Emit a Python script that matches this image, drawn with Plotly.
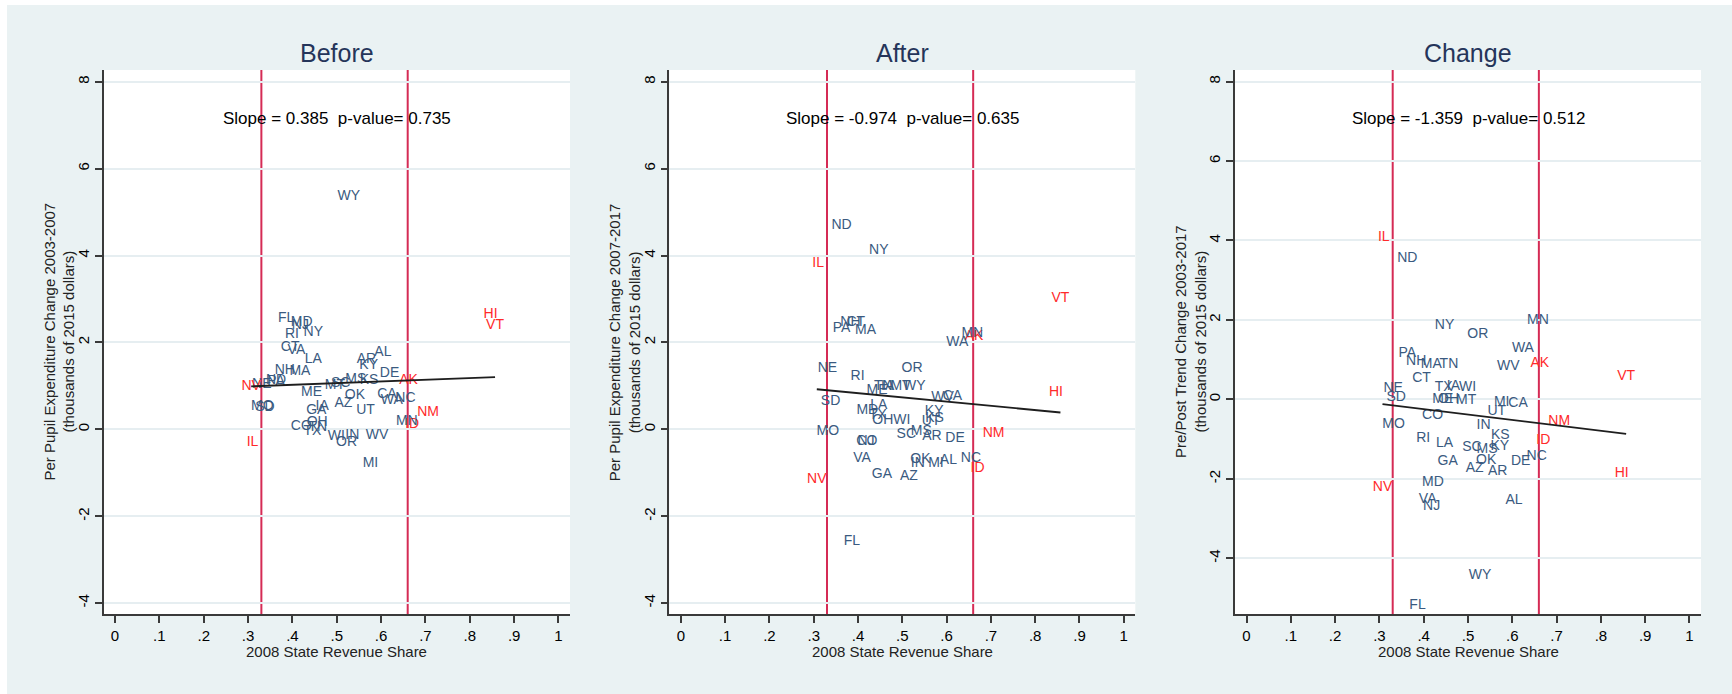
import plotly.graph_objects as go

# ---- data -------------------------------------------------------------
STATES = ["AL", "AK", "AZ", "AR", "CA", "CO", "CT", "DE", "FL", "GA",
          "HI", "ID", "IL", "IN", "IA", "KS", "KY", "LA", "ME", "MD",
          "MA", "MI", "MN", "MS", "MO", "MT", "NE", "NV", "NH", "NJ",
          "NM", "NY", "NC", "ND", "OH", "OK", "OR", "PA", "RI", "SC",
          "SD", "TN", "TX", "UT", "VT", "VA", "WA", "WV", "WI", "WY"]

# 2008 state share of school revenue
REVENUE_SHARE = [0.604, 0.662, 0.515, 0.567, 0.613, 0.420, 0.395, 0.619, 0.386, 0.454,
                 0.847, 0.670, 0.310, 0.535, 0.467, 0.573, 0.572, 0.447, 0.443, 0.421,
                 0.417, 0.576, 0.658, 0.543, 0.332, 0.496, 0.331, 0.307, 0.383, 0.418,
                 0.706, 0.447, 0.655, 0.363, 0.456, 0.541, 0.522, 0.363, 0.399, 0.509,
                 0.338, 0.457, 0.445, 0.565, 0.857, 0.409, 0.624, 0.591, 0.499, 0.527]

# per pupil expenditure change, 2003-2007 (thousands of 2015 dollars)
BEFORE = [1.77, 1.13, 0.60, 1.61, 0.81, 0.06, 1.88, 1.29, 2.55, 0.44,
          2.65, 0.10, -0.31, -0.15, 0.53, 1.13, 1.48, 1.61, 0.84, 2.45,
          1.32, -0.79, 0.17, 1.14, 0.52, 1.02, 1.04, 0.99, 1.36, 2.40,
          0.39, 2.22, 0.71, 1.12, 0.16, 0.79, -0.31, 1.10, 2.19, 1.05,
          0.50, 0.05, -0.06, 0.44, 2.38, 1.81, 0.66, -0.15, -0.17, 5.37]

# per pupil expenditure change, 2007-2017
AFTER = [-0.71, 2.13, -1.08, -0.17, 0.76, -0.29, 2.47, -0.21, -2.57, -1.03,
         0.84, -0.90, 3.82, -0.79, 0.98, 0.25, 0.40, 0.56, 0.90, 0.44,
         2.28, -0.79, 2.21, -0.06, -0.06, 0.99, 1.40, -1.15, 2.45, -0.29,
         -0.09, 4.11, -0.67, 4.70, 0.21, -0.69, 1.40, 2.32, 1.22, -0.13,
         0.63, 0.98, 0.33, 0.17, 3.01, -0.66, 2.01, 0.73, 0.21, 0.98]

# pre/post trend change, 2003-2017
CHANGE = [-2.55, 0.905, -1.74, -1.82, -0.09, -0.40, 0.53, -1.55, -5.18, -1.55,
          -1.86, -1.04, 4.08, -0.65, 0.33, -0.90, -1.18, -1.11, 0.00, -2.09,
          0.89, -0.08, 1.98, -1.26, -0.62, -0.03, 0.28, -2.22, 0.965, -2.70,
          -0.56, 1.85, -1.43, 3.55, 0.00, -1.53, 1.64, 1.16, -0.98, -1.21,
          0.05, 0.87, 0.29, -0.31, 0.57, -2.52, 1.28, 0.82, 0.31, -4.44]

THRESHOLDS = [0.33, 0.66]
SLOPES = [0.385, -0.974, -1.359]
P_VALUES = [0.735, 0.635, 0.512]
INTERCEPTS = [0.871, 1.222, 0.297]

PANEL_TITLES = ["Before", "After", "Change"]
Y_TITLES = ["Per Pupil Expenditure Change 2003-2007<br>(thousands of 2015 dollars)",
            "Per Pupil Expenditure Change 2007-2017<br>(thousands of 2015 dollars)",
            "Pre/Post Trend Change 2003-2017<br>(thousands of 2015 dollars)"]
X_TITLE = "2008 State Revenue Share"

X_TICKS = [0, 0.1, 0.2, 0.3, 0.4, 0.5, 0.6, 0.7, 0.8, 0.9, 1.0]
X_TICK_LABELS = ["0", ".1", ".2", ".3", ".4", ".5", ".6", ".7", ".8", ".9", "1"]
Y_TICKS = [-4, -2, 0, 2, 4, 6, 8]
Y_TICK_LABELS = ["-4", "-2", "0", "2", "4", "6", "8"]

# ---- layout geometry (pixels of a 1732 x 694 page) -----------------------
W, H = 1732, 694
PANEL_LEFT = [103.5, 669.3, 1235.0]
PANEL_RIGHT = [570.0, 1135.3, 1701.0]
PLOT_TOP, PLOT_BOTTOM = 70.0, 614.0
Y_RANGES = [[-4.25, 8.27], [-4.25, 8.27], [-5.40, 8.29]]
X_RANGE = [-0.026, 1.026]

FONT = "Liberation Sans, Arial, sans-serif"
BG = "#EAF2F3"
GRID = "#E6EEF1"
AXIS = "#3a3a3a"
LABEL_BLUE = "#3A5A80"
LABEL_RED = "#FF2A2A"
VLINE = "#D52B55"
TITLE_COLOR = "#25355A"

label_colors = [LABEL_RED if (s < THRESHOLDS[0] or s > THRESHOLDS[1]) else LABEL_BLUE
                for s in REVENUE_SHARE]

fig = go.Figure()
panels = [BEFORE, AFTER, CHANGE]
y_dom = [1 - PLOT_BOTTOM / H, 1 - PLOT_TOP / H]

annotations = []
shapes = []
for i, values in enumerate(panels):
    xs = "x" if i == 0 else f"x{i + 1}"
    ys = "y" if i == 0 else f"y{i + 1}"

    # state abbreviations as markers
    fig.add_trace(go.Scatter(
        x=REVENUE_SHARE, y=values, mode="text", text=STATES,
        textposition="middle center",
        textfont=dict(family=FONT, size=14, color=label_colors),
        xaxis=xs, yaxis=ys, hoverinfo="skip", showlegend=False, cliponaxis=False))

    # linear fit across the observed range of revenue shares
    x_fit = [min(REVENUE_SHARE), max(REVENUE_SHARE)]
    y_fit = [INTERCEPTS[i] + SLOPES[i] * v for v in x_fit]
    fig.add_trace(go.Scatter(
        x=x_fit, y=y_fit, mode="lines", line=dict(color="#1e1e1e", width=1.8),
        xaxis=xs, yaxis=ys, hoverinfo="skip", showlegend=False))

    # threshold reference lines
    for t in THRESHOLDS:
        shapes.append(dict(type="line", xref=xs, yref=f"{ys} domain",
                           x0=t, x1=t, y0=0, y1=1, layer="below",
                           line=dict(color=VLINE, width=2)))

    x_dom = [PANEL_LEFT[i] / W, PANEL_RIGHT[i] / W]
    ax_common = dict(ticks="outside", ticklen=7, tickwidth=1.5, tickcolor=AXIS,
                     showline=True, linecolor=AXIS, linewidth=1.5, zeroline=False,
                     tickfont=dict(family=FONT, size=15, color="black"),
                     fixedrange=True)
    fig.layout[f"xaxis{'' if i == 0 else i + 1}"] = dict(
        domain=x_dom, range=X_RANGE, anchor=ys, tickvals=X_TICKS,
        ticktext=X_TICK_LABELS, showgrid=False, **ax_common)
    fig.layout[f"yaxis{'' if i == 0 else i + 1}"] = dict(
        domain=y_dom, range=Y_RANGES[i], anchor=xs, tickvals=Y_TICKS,
        ticktext=Y_TICK_LABELS, tickangle=-90, showgrid=True, gridcolor=GRID,
        gridwidth=1.5, **ax_common)

    cx = (PANEL_LEFT[i] + PANEL_RIGHT[i]) / 2 / W
    # panel title
    annotations.append(dict(text=PANEL_TITLES[i], x=cx, y=1 - 53 / H, xref="paper", yref="paper",
                            xanchor="center", yanchor="middle", showarrow=False,
                            font=dict(family=FONT, size=25, color=TITLE_COLOR)))
    # slope / p-value note
    annotations.append(dict(text=f"Slope = {SLOPES[i]:.3f}\u00a0\u00a0p-value= {P_VALUES[i]:.3f}",
                            x=0.5, y=(PLOT_BOTTOM - 118) / (PLOT_BOTTOM - PLOT_TOP),
                            xref=f"{xs} domain", yref=f"{ys} domain",
                            xanchor="center", yanchor="middle", showarrow=False,
                            font=dict(family=FONT, size=17, color="black")))
    # y axis title
    annotations.append(dict(text=Y_TITLES[i], x=(PANEL_LEFT[i] - 45) / W,
                            y=1 - (PLOT_TOP + PLOT_BOTTOM) / 2 / H,
                            xref="paper", yref="paper", textangle=-90,
                            xanchor="center", yanchor="middle", showarrow=False,
                            font=dict(family=FONT, size=15, color="#222222")))
    # x axis title
    annotations.append(dict(text=X_TITLE, x=cx, y=1 - 651.7 / H, xref="paper", yref="paper",
                            xanchor="center", yanchor="middle", showarrow=False,
                            font=dict(family=FONT, size=15, color="#222222")))

# white page margin at the top and left edges
shapes.append(dict(type="rect", xref="paper", yref="paper", x0=0, x1=1, y0=1 - 5 / H, y1=1,
                   fillcolor="white", line=dict(width=0), layer="below"))
shapes.append(dict(type="rect", xref="paper", yref="paper", x0=0, x1=7 / W, y0=0, y1=1,
                   fillcolor="white", line=dict(width=0), layer="below"))

fig.update_layout(
    width=W, height=H, margin=dict(l=0, r=0, t=0, b=0),
    paper_bgcolor=BG, plot_bgcolor="white",
    annotations=annotations, shapes=shapes,
    font=dict(family=FONT), showlegend=False)

fig.write_html("out.html")
